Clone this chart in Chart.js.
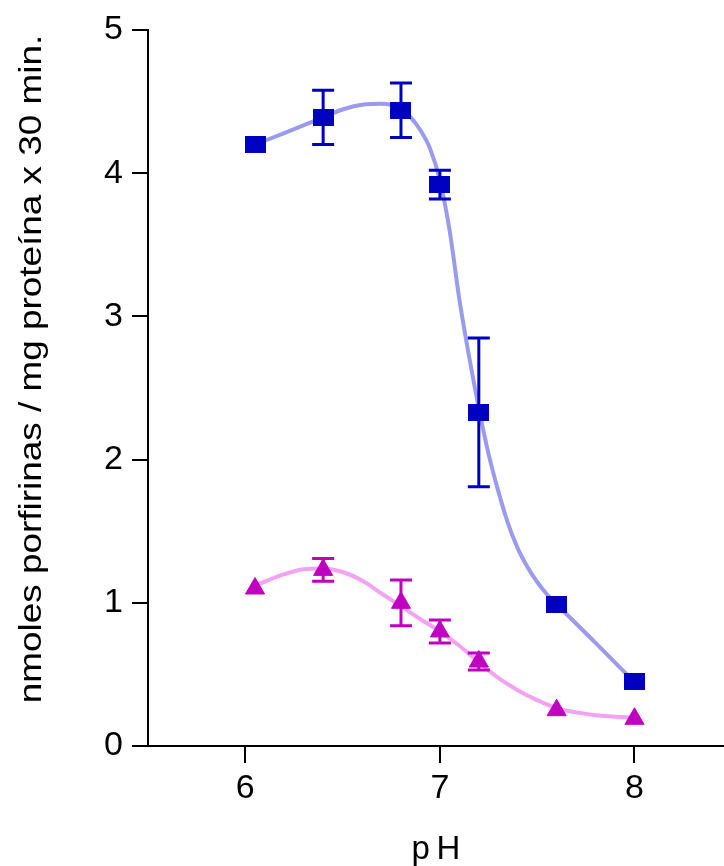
<!DOCTYPE html>
<html>
<head>
<meta charset="utf-8">
<script src="https://cdn.jsdelivr.net/npm/chart.js@4/dist/chart.umd.min.js"></script>
<style>
  html, body { margin: 0; padding: 0; background: #fff; overflow: hidden; }
  canvas { display: block; }
</style>
</head>
<body>
<canvas id="phChart" width="724" height="866"></canvas>
<script>
// measured points (mean +/- SE)
const phPoints = [6.05, 6.4, 6.8, 7.0, 7.2, 7.6, 8.0];
const blueValues = [4.2, 4.39, 4.44, 3.92, 2.33, 0.99, 0.45];
const blueErrors = [0, 0.19, 0.19, 0.1, 0.52, 0, 0];
const pinkValues = [1.1, 1.23, 1.0, 0.8, 0.59, 0.25, 0.19];
const pinkErrors = [0, 0.08, 0.16, 0.08, 0.06, 0, 0];

// fitted curves
const blueFitPh = [6.05, 6.2, 6.4, 6.5, 6.6, 6.7, 6.8, 6.85, 6.9, 6.95, 7.0, 7.05, 7.1, 7.15, 7.2, 7.25, 7.3, 7.35, 7.4, 7.45, 7.5, 7.55, 7.6, 7.8, 8.0];
const blueFitValues = [4.2, 4.28, 4.39, 4.445, 4.478, 4.485, 4.45, 4.39, 4.3, 4.17, 3.95, 3.6, 3.12, 2.72, 2.36, 2.04, 1.78, 1.555, 1.38, 1.25, 1.145, 1.06, 0.99, 0.72, 0.445];
const pinkFitPh = [6.05, 6.2, 6.3, 6.4, 6.5, 6.6, 6.7, 6.8, 6.9, 7.0, 7.1, 7.2, 7.3, 7.4, 7.5, 7.6, 7.7, 7.8, 7.9, 8.0];
const pinkFitValues = [1.12, 1.2, 1.235, 1.24, 1.215, 1.155, 1.065, 0.975, 0.885, 0.8, 0.7, 0.585, 0.475, 0.39, 0.32, 0.265, 0.235, 0.215, 0.205, 0.2];

const xTicks = [6, 7, 8];
const yTicks = [0, 1, 2, 3, 4, 5];
const yTitle = 'nmoles porfirinas / mg proteína x 30 min.';

const blueDark = '#0000c0';
const blueLight = '#9a9aee';
const pinkDark = '#c000c0';
const pinkLight = '#f4a2f4';
const fontFamily = 'Liberation Sans, Arial, sans-serif';

function toXY(xs, ys) {
    return xs.map((x, i) => ({ x: x, y: ys[i] }));
}

// square marker a bit wider than tall, like the original
function makeSquare(w, h, color) {
    const c = document.createElement('canvas');
    c.width = w;
    c.height = h;
    const g = c.getContext('2d');
    g.fillStyle = color;
    g.fillRect(0, 0, w, h);
    return c;
}

// draws vertical error bars with caps for datasets that carry an errors array
const errorBars = {
    id: 'errorBars',
    afterDatasetsDraw(chart) {
        const ctx = chart.ctx;
        const xs = chart.scales.x;
        const ys = chart.scales.y;
        chart.data.datasets.forEach(ds => {
            if (!ds.errors) return;
            ctx.save();
            ctx.strokeStyle = ds.errorColor;
            ctx.lineWidth = 3;
            ds.data.forEach((p, i) => {
                const e = ds.errors[i];
                if (!e) return;
                const px = xs.getPixelForValue(p.x);
                const top = ys.getPixelForValue(p.y + e);
                const bot = ys.getPixelForValue(p.y - e);
                ctx.beginPath();
                ctx.moveTo(px, top);
                ctx.lineTo(px, bot);
                ctx.moveTo(px - 11, top);
                ctx.lineTo(px + 11, top);
                ctx.moveTo(px - 11, bot);
                ctx.lineTo(px + 11, bot);
                ctx.stroke();
            });
            ctx.restore();
        });
    }
};

// y title: the original lettering is stretched along its length
const stretchedYTitle = {
    id: 'stretchedYTitle',
    afterDraw(chart) {
        const ctx = chart.ctx;
        ctx.save();
        ctx.translate(32, 369);
        ctx.rotate(-Math.PI / 2);
        ctx.scale(1.19, 1);
        ctx.font = '31px ' + fontFamily;
        ctx.fillStyle = '#000';
        ctx.textAlign = 'center';
        ctx.textBaseline = 'middle';
        ctx.fillText(yTitle, 0, 0);
        ctx.restore();
    }
};

const ctx = document.getElementById('phChart').getContext('2d');
new Chart(ctx, {
    type: 'scatter',
    data: {
        datasets: [
            {
                label: 'fit blue',
                data: toXY(blueFitPh, blueFitValues),
                showLine: true,
                borderColor: blueLight,
                borderWidth: 4,
                pointRadius: 0,
                cubicInterpolationMode: 'monotone',
                order: 3
            },
            {
                label: 'fit pink',
                data: toXY(pinkFitPh, pinkFitValues),
                showLine: true,
                borderColor: pinkLight,
                borderWidth: 4,
                pointRadius: 0,
                cubicInterpolationMode: 'monotone',
                order: 3
            },
            {
                label: 'blue',
                data: toXY(phPoints, blueValues),
                errors: blueErrors,
                errorColor: blueDark,
                pointStyle: makeSquare(21, 17, blueDark),
                pointRadius: 10,
                backgroundColor: blueDark,
                borderColor: blueDark,
                order: 1
            },
            {
                label: 'pink',
                data: toXY(phPoints, pinkValues),
                errors: pinkErrors,
                errorColor: pinkDark,
                pointStyle: 'triangle',
                pointRadius: 11,
                backgroundColor: pinkDark,
                borderColor: pinkDark,
                borderWidth: 1,
                order: 1
            }
        ]
    },
    options: {
        responsive: false,
        animation: false,
        events: [],
        layout: { autoPadding: false, padding: { top: 30, right: 0, left: 0, bottom: 0 } },
        plugins: {
            legend: { display: false },
            tooltip: { enabled: false }
        },
        scales: {
            x: {
                type: 'linear',
                min: 5.5,
                max: 8.46,
                afterFit: s => {
                    s.height = 120;
                    s.paddingLeft = 0;
                    s.paddingRight = 0;
                },
                afterBuildTicks: s => { s.ticks = xTicks.map(v => ({ value: v })); },
                grid: { drawOnChartArea: false, drawTicks: true, tickLength: 17, color: '#000', lineWidth: 2 },
                border: { display: true, color: '#000', width: 2 },
                ticks: {
                    color: '#000',
                    padding: 5,
                    maxRotation: 0,
                    font: { family: fontFamily, size: 34 }
                },
                title: {
                    display: true,
                    text: 'p\u2009H',
                    color: '#000',
                    padding: { top: 0, bottom: 0 },
                    font: { family: fontFamily, size: 33, lineHeight: 1 }
                }
            },
            y: {
                type: 'linear',
                min: 0,
                max: 5,
                afterFit: s => {
                    s.width = 148;
                    s.paddingTop = 0;
                    s.paddingBottom = 0;
                },
                afterBuildTicks: s => { s.ticks = yTicks.map(v => ({ value: v })); },
                grid: { drawOnChartArea: false, drawTicks: true, tickLength: 16, color: '#000', lineWidth: 2 },
                border: { display: true, color: '#000', width: 2 },
                ticks: {
                    color: '#000',
                    padding: 9,
                    font: { family: fontFamily, size: 34 }
                }
            }
        }
    },
    plugins: [errorBars, stretchedYTitle]
});
</script>
</body>
</html>
